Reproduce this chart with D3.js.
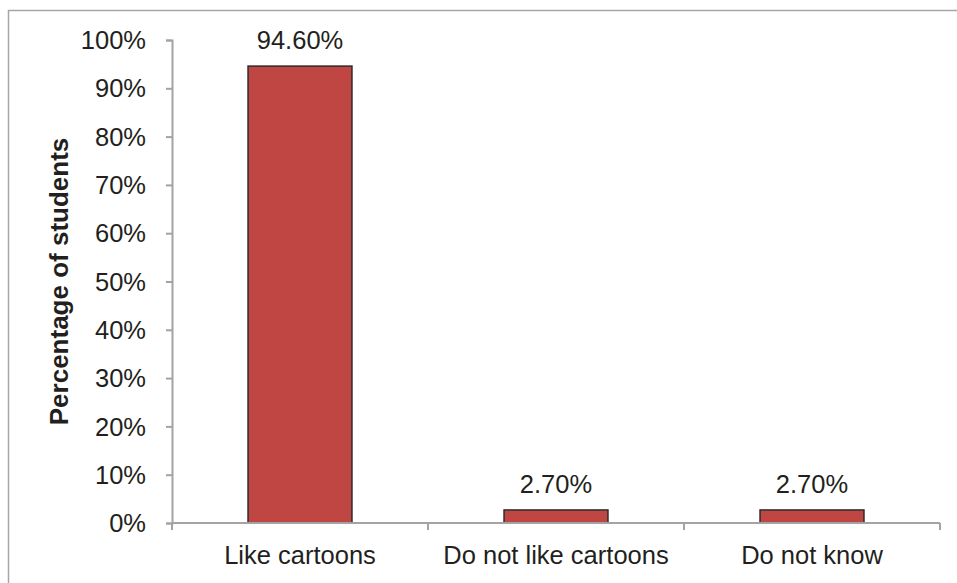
<!DOCTYPE html>
<html>
<head>
<meta charset="utf-8">
<script src="https://cdn.jsdelivr.net/npm/d3@7"></script>
<style>
  body { margin: 0; background: #fff; }
  text { font-family: Arial, "Liberation Sans", sans-serif; fill: #231f20; }
  .axis path, .axis line { stroke: #a3a3a6; stroke-width: 2; }
</style>
</head>
<body>
<div id="chart"></div>
<script>
// chart data
const categories = ["Like cartoons", "Do not like cartoons", "Do not know"];
const values = [94.6, 2.7, 2.7];
const valueLabels = ["94.60%", "2.70%", "2.70%"];
const yTicks = [0, 10, 20, 30, 40, 50, 60, 70, 80, 90, 100];

const width = 957, height = 583;
const margin = { top: 40, right: 17, bottom: 60, left: 172 };

let svg = d3.select("#chart").append("svg")
  .attr("width", width)
  .attr("height", height);

// outer frame
svg.append("rect")
  .attr("x", 8.5)
  .attr("y", 10.5)
  .attr("width", 955)
  .attr("height", 600)
  .attr("fill", "none")
  .attr("stroke", "#a6a6a8")
  .attr("stroke-width", 1.5);

let x = d3.scaleBand()
  .domain(categories)
  .range([margin.left, width - margin.right])
  .paddingInner(0)
  .paddingOuter(0);

let y = d3.scaleLinear()
  .domain([0, 100])
  .range([height - margin.bottom, margin.top]);

let yAxis = d3.axisLeft(y)
  .tickValues(yTicks)
  .tickSize(6)
  .tickSizeOuter(6)
  .tickPadding(20)
  .tickFormat(d => d + "%");

let gy = svg.append("g")
  .attr("class", "axis yAxis")
  .attr("transform", `translate(${margin.left}, 0)`)
  .call(yAxis);
gy.selectAll("text")
  .style("font-size", "25.5px")
  .attr("dy", "0.34em");

// bars
let barW = x.bandwidth() * 0.406;
svg.selectAll("rect.bar")
  .data(values)
  .enter()
  .append("rect")
  .attr("class", "bar")
  .attr("x", (d, i) => x(categories[i]) + (x.bandwidth() - barW) / 2)
  .attr("y", d => y(d))
  .attr("width", barW)
  .attr("height", d => y(0) - y(d))
  .attr("fill", "#c04643")
  .attr("stroke", "#2b2b2b")
  .attr("stroke-width", 1.5);

// x axis with ticks at category boundaries
let xBounds = categories.map(c => x(c)).concat([x.range()[1]]);
let gx = svg.append("g")
  .attr("class", "axis xAxis")
  .attr("transform", `translate(0, ${y(0)})`);
gx.append("line")
  .attr("x1", x.range()[0])
  .attr("x2", x.range()[1]);
gx.selectAll("line.tick")
  .data(xBounds)
  .enter()
  .append("line")
  .attr("class", "tick")
  .attr("x1", d => d)
  .attr("x2", d => d)
  .attr("y1", 0)
  .attr("y2", 7);
gx.selectAll("text")
  .data(categories)
  .enter()
  .append("text")
  .attr("x", d => x(d) + x.bandwidth() / 2)
  .attr("y", 41)
  .style("text-anchor", "middle")
  .style("font-size", "25.5px")
  .text(d => d);

// value labels
svg.selectAll("text.valueLabel")
  .data(values)
  .enter()
  .append("text")
  .attr("class", "valueLabel")
  .attr("x", (d, i) => x(categories[i]) + x.bandwidth() / 2)
  .attr("y", d => y(d) - 17)
  .style("text-anchor", "middle")
  .style("font-size", "25.5px")
  .text((d, i) => valueLabels[i]);

// y title
svg.append("text")
  .attr("transform", `translate(68, ${(y(0) + y(100)) / 2}) rotate(-90)`)
  .style("text-anchor", "middle")
  .style("font-size", "26px")
  .style("font-weight", "bold")
  .text("Percentage of students");
</script>
</body>
</html>
